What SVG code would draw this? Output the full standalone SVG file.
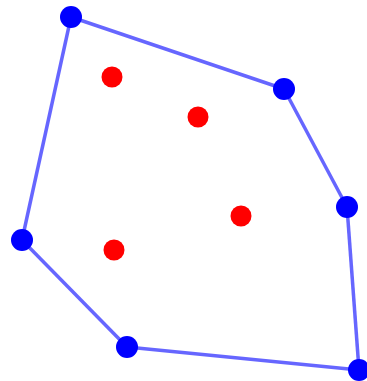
<svg xmlns="http://www.w3.org/2000/svg" width="367" height="381" viewBox="0 0 367 381">
<style>
.edge{stroke:#0000ff;stroke-opacity:0.6;stroke-width:3.5;fill:none}
.hull{fill:#0000ff}
.inner{fill:#ff0000}
</style>
<rect width="367" height="381" fill="#ffffff"/>
<g id="connectors">
<line class="edge" x1="71" y1="17" x2="284" y2="89"/>
<line class="edge" x1="284" y1="89" x2="347" y2="207"/>
<line class="edge" x1="347" y1="207" x2="359" y2="370"/>
<line class="edge" x1="359" y1="370" x2="127" y2="347"/>
<line class="edge" x1="127" y1="347" x2="22" y2="240"/>
<line class="edge" x1="22" y1="240" x2="71" y2="17"/>
</g>
<g id="p1"><circle class="hull" cx="71" cy="17" r="11"/></g>
<g id="p2"><circle class="hull" cx="284" cy="89" r="11"/></g>
<g id="p3"><circle class="hull" cx="347" cy="207" r="11"/></g>
<g id="p4"><circle class="hull" cx="22" cy="240" r="11"/></g>
<g id="p5"><circle class="hull" cx="127" cy="347" r="11"/></g>
<g id="p6"><circle class="hull" cx="359" cy="370" r="11"/></g>
<g id="q1"><circle class="inner" cx="112" cy="77" r="10.5"/></g>
<g id="q2"><circle class="inner" cx="198" cy="117" r="10.5"/></g>
<g id="q3"><circle class="inner" cx="241" cy="216" r="10.5"/></g>
<g id="q4"><circle class="inner" cx="114" cy="250" r="10.5"/></g>
</svg>
